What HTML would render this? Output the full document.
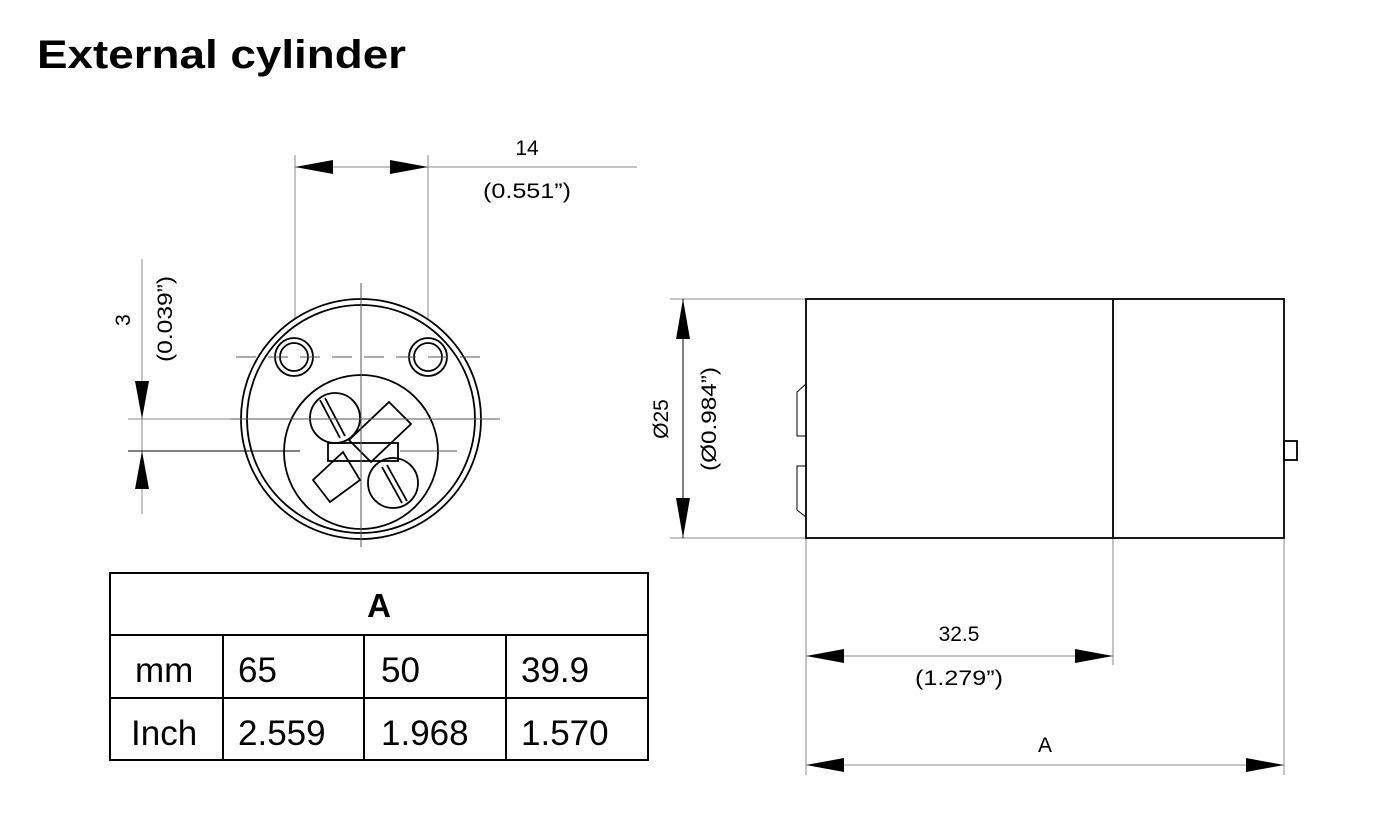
<!DOCTYPE html>
<html><head><meta charset="utf-8"><style>
body{margin:0;background:#fff}
svg{display:block}
text{font-family:"Liberation Sans",Arial,sans-serif}
</style></head><body>
<svg width="1377" height="834" viewBox="0 0 1377 834" xmlns="http://www.w3.org/2000/svg">
<text x="37" y="68" font-size="40" font-weight="bold" fill="#000" textLength="369" lengthAdjust="spacingAndGlyphs">External cylinder</text>

<g stroke="#888" stroke-width="1">
<line x1="295" y1="155" x2="295" y2="318"/>
<line x1="428" y1="155" x2="428" y2="318"/>
<line x1="295" y1="167" x2="637" y2="167"/>
</g>
<polygon points="295,167 333,160 333,174" fill="#000"/>
<polygon points="428,167 390,160 390,174" fill="#000"/>
<text x="527" y="155" font-size="21" text-anchor="middle">14</text>
<text x="527" y="198" font-size="21" text-anchor="middle" textLength="88" lengthAdjust="spacingAndGlyphs">(0.551”)</text>

<g stroke="#888" stroke-width="1">
<line x1="142" y1="259" x2="142" y2="514"/>
<line x1="128" y1="419" x2="240" y2="419"/>
</g>
<line x1="128" y1="451" x2="300" y2="451" stroke="#000" stroke-width="1"/>
<polygon points="142,419 135,381 149,381" fill="#000"/>
<polygon points="142,451 135,489 149,489" fill="#000"/>
<text transform="translate(130,320) rotate(-90)" font-size="21" text-anchor="middle">3</text>
<text transform="translate(172,319) rotate(-90)" font-size="21" text-anchor="middle" textLength="86" lengthAdjust="spacingAndGlyphs">(0.039”)</text>

<g fill="none" stroke="#000" stroke-width="1.8">
<circle cx="361" cy="419" r="120"/>
<circle cx="361" cy="419" r="114"/>
<circle cx="294" cy="357" r="19"/>
<circle cx="294" cy="357" r="14"/>
<circle cx="428" cy="357" r="19"/>
<circle cx="428" cy="357" r="14"/>
<circle cx="361" cy="452" r="77"/>
<circle cx="335" cy="418" r="25"/>
<circle cx="393" cy="483" r="25"/>
<line x1="320" y1="400" x2="340" y2="438"/><line x1="325" y1="398" x2="345" y2="436"/>
<line x1="382" y1="467" x2="402" y2="503"/><line x1="387" y1="465" x2="407" y2="501"/>
<polygon points="349,440 389,402 411,424 371,462"/>
<polygon points="313,480 343,452 360,480 330,502"/>
<rect x="328" y="443" width="70" height="18"/>
</g>
<g stroke="#555" stroke-width="1">
<line x1="361" y1="283" x2="361" y2="547"/>
<line x1="236" y1="357" x2="488" y2="357" stroke-dasharray="20,12"/>
<line x1="230" y1="419" x2="500" y2="419"/>
<line x1="400" y1="451" x2="457" y2="451"/>
</g>

<g stroke="#000" stroke-width="2" fill="none">
<rect x="110" y="573" width="538" height="187"/>
<line x1="110" y1="635" x2="648" y2="635"/>
<line x1="110" y1="698" x2="648" y2="698"/>
<line x1="223" y1="635" x2="223" y2="760"/>
<line x1="364" y1="635" x2="364" y2="760"/>
<line x1="506" y1="635" x2="506" y2="760"/>
</g>
<text x="379" y="617" font-size="33" font-weight="bold" text-anchor="middle">A</text>
<g font-size="35">
<text x="135" y="682">mm</text><text x="238" y="682">65</text><text x="381" y="682">50</text><text x="521" y="682">39.9</text>
<text x="131" y="745">Inch</text><text x="238" y="745">2.559</text><text x="381" y="745">1.968</text><text x="521" y="745">1.570</text>
</g>

<g stroke="#888" stroke-width="1">
<line x1="670" y1="299" x2="806" y2="299"/>
<line x1="670" y1="538" x2="806" y2="538"/>
<line x1="683" y1="299" x2="683" y2="538" stroke="#000"/>
<line x1="806" y1="538" x2="806" y2="775"/>
<line x1="1113" y1="538" x2="1113" y2="665"/>
<line x1="1284" y1="538" x2="1284" y2="775"/>
<line x1="806" y1="656" x2="1113" y2="656"/>
<line x1="806" y1="765" x2="1284" y2="765"/>
</g>
<polygon points="683,299 676,339 690,339" fill="#000"/>
<polygon points="683,538 676,498 690,498" fill="#000"/>
<text transform="translate(668,419) rotate(-90)" font-size="21" text-anchor="middle">Ø25</text>
<text transform="translate(716,419) rotate(-90)" font-size="21" text-anchor="middle" textLength="104" lengthAdjust="spacingAndGlyphs">(Ø0.984”)</text>
<g fill="none" stroke="#000" stroke-width="1.8">
<rect x="806" y="299" width="478" height="239"/>
<line x1="1113" y1="299" x2="1113" y2="538"/>
<rect x="1284" y="441" width="13" height="19"/>
</g>
<g fill="none" stroke="#000" stroke-width="1">
<polyline points="806,384 797,392 797,436 806,436"/>
<polyline points="806,466 797,466 797,510 806,517"/>
</g>
<polygon points="806,656 844,649 844,663" fill="#000"/>
<polygon points="1113,656 1075,649 1075,663" fill="#000"/>
<text x="959" y="641" font-size="21" text-anchor="middle">32.5</text>
<text x="959" y="685" font-size="21" text-anchor="middle" textLength="88" lengthAdjust="spacingAndGlyphs">(1.279”)</text>
<polygon points="806,765 844,758 844,772" fill="#000"/>
<polygon points="1284,765 1246,758 1246,772" fill="#000"/>
<text x="1045" y="752" font-size="21" text-anchor="middle">A</text>
</svg>
</body></html>
